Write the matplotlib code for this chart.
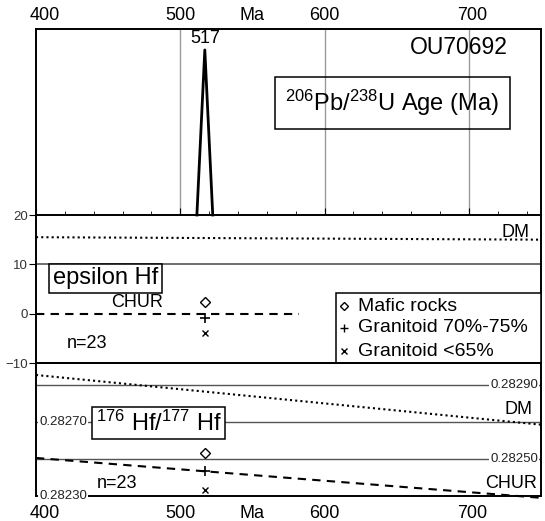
import numpy as np
import matplotlib
matplotlib.use("Agg")
import matplotlib.pyplot as plt
from matplotlib.patches import Rectangle
from matplotlib.ticker import MultipleLocator

plt.rcParams["font.family"] = ["Liberation Sans", "DejaVu Sans"]
plt.rcParams["mathtext.fontset"] = "custom"
plt.rcParams["mathtext.rm"] = "Liberation Sans"
plt.rcParams["mathtext.default"] = "regular"

# U-Pb age probability curve (relative)
age_grid = [511.5, 517, 522.5]
age_density = [0.0, 1.0, 0.0]
peak_age = 517

# Hf isotope results plotted at the zircon age
sample_age = 517
eps_mafic, eps_gran_hi, eps_gran_lo = 2.4, -0.8, -3.9
hf_mafic, hf_gran_hi, hf_gran_lo = 0.282532, 0.282435, 0.282332

# reference reservoirs
ref_ages = [400, 750]
dm_eps = [15.5, 15.0]
chur_eps_ages = [400, 582]
chur_eps = [0.0, 0.0]
dm_hf = [0.282955, 0.282686]
chur_hf = [0.282506, 0.282290]

hf_grid = [0.28230, 0.28250, 0.28270, 0.28290]
eps_ticks = [-10, 0, 10, 20]
age_ticks = [400, 500, 600, 700]

fig = plt.figure(figsize=(5.45, 5.21), dpi=100)
L, W = 36 / 545, 505 / 545
ax_age = fig.add_axes([L, 1 - 215 / 521, W, 186 / 521])
ax_eps = fig.add_axes([L, 1 - 363 / 521, W, 148 / 521])
ax_hf = fig.add_axes([L, 1 - 496 / 521, W, 133 / 521])

for ax in (ax_age, ax_eps, ax_hf):
    ax.set_xlim(400, 750)
    ax.set_facecolor("none")
    for s in ax.spines.values():
        s.set_linewidth(1.4)

# ---- age panel
ax_age.plot(age_grid, age_density, color="black", lw=2, clip_on=False)
ax_age.set_ylim(0, 1.127)
for a in age_ticks[1:]:
    ax_age.axvline(a, color="#9a9a9a", lw=1, zorder=0)
ax_age.set_yticks([])
ax_age.xaxis.set_major_locator(MultipleLocator(100))
ax_age.xaxis.set_minor_locator(MultipleLocator(20))
ax_age.tick_params(axis="x", which="major", direction="in", length=5, labelbottom=False)
ax_age.tick_params(axis="x", which="minor", direction="in", length=3)
ax_age.annotate(str(peak_age), (peak_age, 1.0), xytext=(0, 2), textcoords="offset points",
                ha="center", va="bottom", fontsize=13)
ax_age.text(727, 1.012, "OU70692", ha="right", va="center", fontsize=16.5)
ax_age.text(647, 0.679, r"$^{206}$Pb/$^{238}$U Age (Ma)", ha="center", va="center", fontsize=17,
            bbox=dict(boxstyle="square,pad=0.45", fc="none", ec="black", lw=1.1))

# age labels above and below the stack
for a in age_ticks:
    xa = a + 6 if a == 400 else a + (2 if a == 700 else 0)
    ax_age.text(xa, 1.028, str(a), transform=ax_age.get_xaxis_transform(), ha="center",
                va="bottom", fontsize=13)
    ax_hf.text(xa, -0.07, str(a), transform=ax_hf.get_xaxis_transform(), ha="center",
               va="top", fontsize=13)
ax_age.text(550, 1.028, "Ma", transform=ax_age.get_xaxis_transform(), ha="center", va="bottom", fontsize=13)
ax_hf.text(550, -0.07, "Ma", transform=ax_hf.get_xaxis_transform(), ha="center", va="top", fontsize=13)

# ---- epsilon Hf panel
ax_eps.set_ylim(-10, 20)
ax_eps.set_yticks(eps_ticks)
ax_eps.tick_params(axis="y", direction="out", length=5, labelsize=9.5, labelcolor="#333333", pad=1)
ax_eps.tick_params(axis="x", length=0, labelbottom=False)
ax_eps.spines["top"].set_visible(False)
ax_eps.axhline(10, color="#555555", lw=1.2)
ax_eps.plot(ref_ages, dm_eps, color="black", ls=(0, (1, 1.5)), lw=1.5)
ax_eps.plot(chur_eps_ages, chur_eps, color="black", ls=(0, (4, 3)), lw=1.5)
ax_eps.plot(sample_age, eps_mafic, "D", mfc="none", mec="black", ms=5, mew=1)
ax_eps.plot(sample_age, eps_gran_hi, "+", color="black", ms=7, mew=1.2)
ax_eps.plot(sample_age, eps_gran_lo, "x", color="black", ms=5, mew=1)
ax_eps.text(742, 16.55, "DM", ha="right", va="center", fontsize=13)
ax_eps.text(470, 2.2, "CHUR", ha="center", va="center", fontsize=13)
ax_eps.text(435.7, -5.95, "n=23", ha="center", va="center", fontsize=13)
ax_eps.text(448.2, 7.2, "epsilon Hf", ha="center", va="center", fontsize=17,
            bbox=dict(boxstyle="square,pad=0.15", fc="white", ec="black", lw=1.1))

# legend box
ax_eps.add_patch(Rectangle((607.9, -10), 750 - 607.9, 14.2, fc="white", ec="black", lw=1.1, zorder=3))
rows = [1.55, -2.9, -7.57]
ax_eps.plot(613.4, rows[0], "D", mfc="none", mec="black", ms=4, mew=1, zorder=4)
ax_eps.plot(613.4, rows[1], "+", color="black", ms=6, mew=1, zorder=4)
ax_eps.plot(613.4, rows[2], "x", color="black", ms=4, mew=1, zorder=4)
for y, lab in zip(rows, ["Mafic rocks", "Granitoid 70%-75%", "Granitoid <65%"]):
    ax_eps.text(623.1, y, lab, ha="left", va="center", fontsize=14, zorder=5)

# ---- 176Hf/177Hf panel
ax_hf.set_ylim(0.28230, 0.28302)
ax_hf.set_yticks([])
ax_hf.tick_params(axis="x", length=0, labelbottom=False)
for h in hf_grid[1:]:
    ax_hf.axhline(h, color="#555555", lw=1, zorder=1)
ax_hf.plot(ref_ages, dm_hf, color="black", ls=(0, (1, 1.5)), lw=1.5, clip_on=False)
ax_hf.plot(ref_ages, chur_hf, color="black", ls=(0, (4, 3)), lw=1.5, clip_on=False)
ax_hf.plot(sample_age, hf_mafic, "D", mfc="none", mec="black", ms=5, mew=1)
ax_hf.plot(sample_age, hf_gran_hi, "+", color="black", ms=7, mew=1.2)
ax_hf.plot(sample_age, hf_gran_lo, "x", color="black", ms=5, mew=1)
ax_hf.text(744.4, 0.282766, "DM", ha="right", va="center", fontsize=13)
ax_hf.text(747.2, 0.28237, "CHUR", ha="right", va="center", fontsize=13)
ax_hf.text(456.5, 0.28237, "n=23", ha="center", va="center", fontsize=13)
ax_hf.text(485, 0.282695, r"$^{176}$ Hf/$^{177}$ Hf", ha="center", va="center", fontsize=17,
           bbox=dict(boxstyle="square,pad=0.15", fc="white", ec="black", lw=1.1), zorder=5)

tick_box = dict(boxstyle="square,pad=0.1", fc="white", ec="none")
for h in (hf_grid[0], hf_grid[2]):
    ax_hf.text(402.2, h, "%.5f" % h, ha="left", va="center", fontsize=9.5,
               color="#222222", bbox=tick_box, zorder=6, clip_on=False)
for h in (hf_grid[1], hf_grid[3]):
    ax_hf.text(748, h, "%.5f" % h, ha="right", va="center", fontsize=9.5,
               color="#222222", bbox=tick_box, zorder=6)

fig.savefig("out.png", dpi=100)
